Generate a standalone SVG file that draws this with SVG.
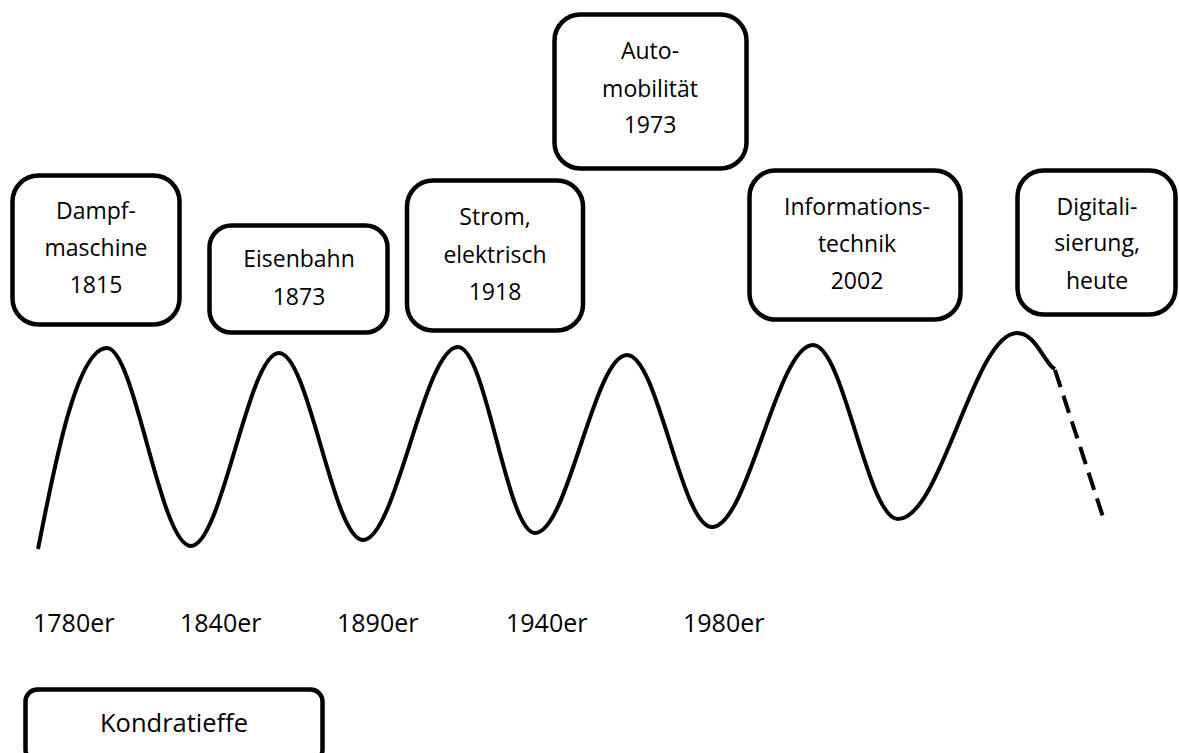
<svg xmlns="http://www.w3.org/2000/svg" width="1179" height="753" viewBox="0 0 1179 753">
<style>
.box{fill:#fff;stroke:#000;stroke-width:4.5}
.t{font-family:"Open Sans","Liberation Sans",sans-serif;font-size:23px;fill:#000;text-anchor:middle}
.y{font-family:"Open Sans","Liberation Sans",sans-serif;font-size:25px;fill:#000}
.wave{fill:none;stroke:#000;stroke-width:4;stroke-linecap:butt}
</style>
<rect width="1179" height="753" fill="#fff"/>
<g id="curve">
<path class="wave" d="M38,549 C52,480 75,348 107,348 C135,348 160,546 191,546 C222,546 248,353 279,353 C309,353 333,540 363,540 C396,540 424,347 458,347 C486,347 507,533 535,533 C568,533 594,355 627,355 C658,355 681,527 712,527 C748,527 777,345 813,345 C844,345 867,519 898,519 C941,519 974,333 1017,333 C1032,333 1040,352 1048,362 Q1051,367 1055,369"/>
<path class="wave" d="M1055,370 L1105,523" stroke-dasharray="18 9"/>
</g>
<g id="n1"><rect class="box" x="12.5" y="175.5" width="167" height="149" rx="26"/>
<text class="t" x="96" y="219">Dampf-</text><text class="t" x="96" y="256">maschine</text><text class="t" x="96" y="293">1815</text></g>
<g id="n2"><rect class="box" x="209.5" y="225.5" width="178" height="107" rx="22"/>
<text class="t" x="299" y="267">Eisenbahn</text><text class="t" x="299" y="305">1873</text></g>
<g id="n3"><rect class="box" x="407" y="180.5" width="176" height="150" rx="26"/>
<text class="t" x="495" y="225">Strom,</text><text class="t" x="495" y="263">elektrisch</text><text class="t" x="495" y="300">1918</text></g>
<g id="n4"><rect class="box" x="554.5" y="14.5" width="192" height="154" rx="26"/>
<text class="t" x="650" y="59">Auto-</text><text class="t" x="650" y="97">mobilität</text><text class="t" x="650" y="133">1973</text></g>
<g id="n5"><rect class="box" x="749.5" y="170.5" width="211" height="149" rx="26"/>
<text class="t" x="857" y="215">Informations-</text><text class="t" x="857" y="252">technik</text><text class="t" x="857" y="289">2002</text></g>
<g id="n6"><rect class="box" x="1017.5" y="170.5" width="158" height="144" rx="26"/>
<text class="t" x="1097" y="215">Digitali-</text><text class="t" x="1097" y="251">sierung,</text><text class="t" x="1097" y="289">heute</text></g>
<g id="labels">
<text class="y" x="33" y="632">1780er</text>
<text class="y" x="180" y="632">1840er</text>
<text class="y" x="337" y="632">1890er</text>
<text class="y" x="506" y="632">1940er</text>
<text class="y" x="683" y="632">1980er</text>
</g>
<g id="legend"><rect class="box" x="25.5" y="689.5" width="297" height="72" rx="12"/>
<text class="t" x="174" y="732" style="font-size:25.5px">Kondratieffe</text></g>
</svg>
